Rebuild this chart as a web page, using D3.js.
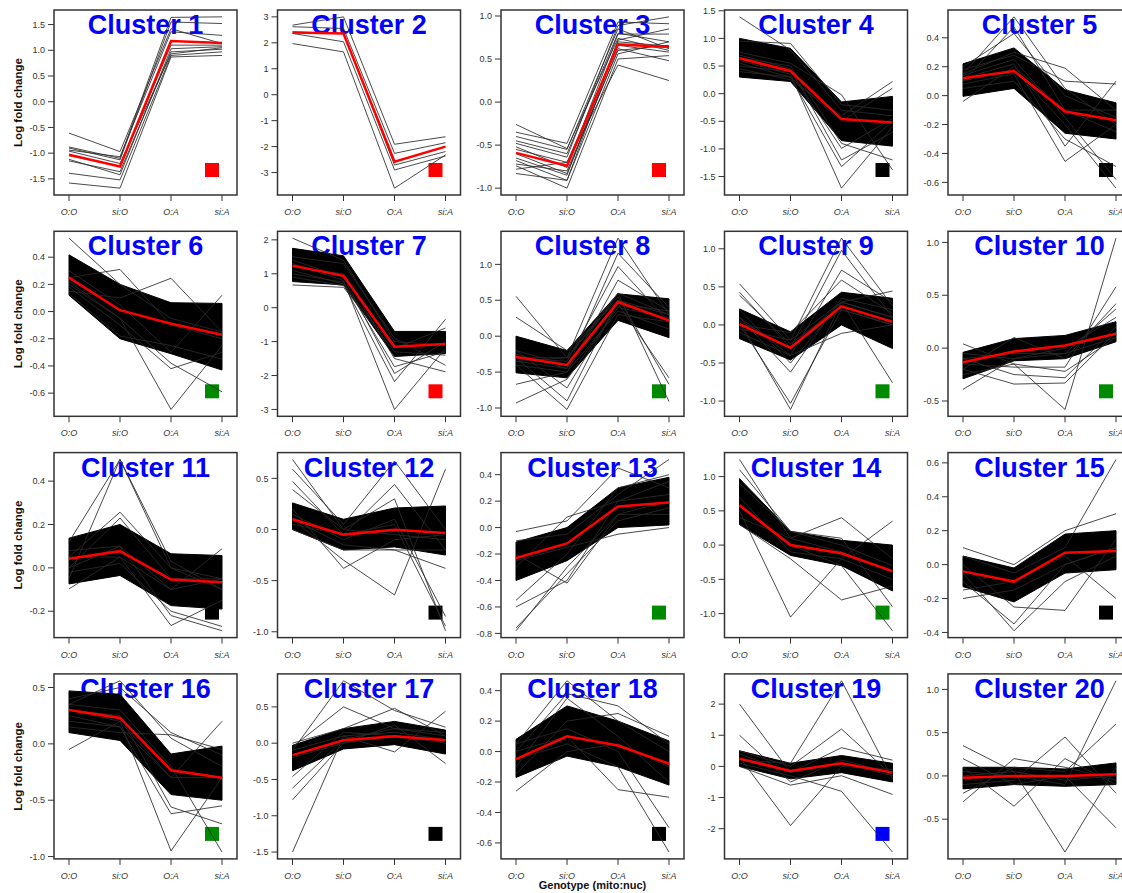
<!DOCTYPE html>
<html>
<head>
<meta charset="utf-8">
<script src="https://cdn.jsdelivr.net/npm/d3@7"></script>
<style>
  body { margin: 0; background: #fff; }
  svg { display: block; font-family: "Liberation Sans", Arial, Helvetica, sans-serif; }
</style>
</head>
<body>
<svg id="chart" width="1122" height="893"></svg>
<script>
/*************************
 *  data
*************************/

const genotypes = ["O:O", "si:O", "O:A", "si:A"]
const clusterNames = d3.range(1, 21).map(i => "Cluster " + i)

// red line (cluster mean)
const meanLines = [
  [-1.03, -1.26, 1.18, 1.14],
  [2.40, 2.36, -2.58, -2.00],
  [-0.59, -0.74, 0.67, 0.64],
  [0.64, 0.41, -0.46, -0.52],
  [0.12, 0.17, -0.11, -0.17],
  [0.25, 0.01, -0.09, -0.17],
  [1.24, 0.94, -1.15, -1.07],
  [-0.29, -0.40, 0.475, 0.22],
  [0.01, -0.30, 0.245, 0.04],
  [-0.134, -0.033, 0.025, 0.136],
  [0.042, 0.077, -0.054, -0.066],
  [0.10, -0.05, -0.003, -0.035],
  [-0.23, -0.12, 0.16, 0.19],
  [0.58, 0.00, -0.12, -0.38],
  [-0.04, -0.10, 0.07, 0.08],
  [0.30, 0.23, -0.234, -0.30],
  [-0.165, 0.04, 0.096, 0.04],
  [-0.05, 0.10, 0.04, -0.08],
  [0.25, -0.15, 0.10, -0.20],
  [-0.02, 0.00, 0.00, 0.02]
]

// dense black core of the gene profiles (upper / lower edge), null where the lines are few
const bandUpper = [
  null, null, null,
  [1.00, 0.82, -0.15, -0.05],
  [0.22, 0.33, 0.04, -0.05],
  [0.417, 0.20, 0.065, 0.06],
  [1.75, 1.53, -0.70, -0.70],
  [0.00, -0.20, 0.59, 0.52],
  [0.21, -0.09, 0.43, 0.35],
  [-0.04, 0.09, 0.12, 0.25],
  [0.137, 0.20, 0.065, 0.057],
  [0.26, 0.10, 0.21, 0.23],
  [-0.11, 0.00, 0.30, 0.38],
  [0.97, 0.20, 0.07, 0.00],
  [0.05, -0.02, 0.18, 0.20],
  [0.47, 0.44, -0.09, -0.02],
  [-0.03, 0.20, 0.30, 0.18],
  [0.08, 0.30, 0.20, 0.07],
  [0.50, 0.10, 0.35, 0.10],
  [0.10, 0.10, 0.08, 0.15]
]
const bandLower = [
  null, null, null,
  [0.30, 0.22, -0.85, -0.95],
  [-0.005, 0.05, -0.26, -0.30],
  [0.12, -0.20, -0.31, -0.43],
  [0.77, 0.67, -1.44, -1.35],
  [-0.51, -0.58, 0.22, -0.02],
  [-0.18, -0.46, 0.00, -0.31],
  [-0.29, -0.12, -0.10, 0.06],
  [-0.074, -0.035, -0.174, -0.19],
  [0.00, -0.20, -0.17, -0.25],
  [-0.40, -0.25, 0.00, 0.02],
  [0.30, -0.15, -0.30, -0.67],
  [-0.13, -0.22, -0.05, -0.03],
  [0.10, 0.03, -0.45, -0.50],
  [-0.38, -0.08, -0.02, -0.15],
  [-0.17, -0.03, -0.10, -0.22],
  [0.00, -0.40, -0.20, -0.50],
  [-0.15, -0.10, -0.12, -0.10]
]

// individual gene profiles that stand out of the core
const geneLines = [
  [[-0.61, -0.97, 1.42, 1.13], [-0.88, -1.10, 1.64, 1.65], [-0.90, -1.13, 1.55, 1.52], [-0.94, -1.07, 1.36, 1.29],
   [-1.12, -1.42, 1.03, 1.07], [-1.15, -1.36, 0.97, 1.02], [-1.39, -1.52, 0.90, 0.97], [-1.58, -1.68, 0.87, 0.90],
   [-0.96, -1.20, 0.93, 1.05], [-1.05, -1.25, 1.10, 1.10]],
  [[2.68, 3.00, -1.91, -1.62], [2.62, 2.55, -2.26, -1.85], [2.42, 2.36, -2.71, -2.19], [2.36, 2.04, -2.90, -2.36],
   [1.97, 1.65, -3.60, -2.32]],
  [[-0.26, -0.54, 0.74, 0.60], [-0.35, -0.48, 0.93, 0.91], [-0.48, -0.64, 0.89, 0.99], [-0.52, -0.76, 0.79, 0.79],
   [-0.60, -0.83, 0.62, 0.48], [-0.68, -0.91, 0.56, 0.70], [-0.74, -1.00, 0.50, 0.54], [-0.78, -0.70, 0.43, 0.25],
   [-0.83, -0.91, 0.70, 0.65], [-0.45, -0.60, 0.80, 0.70], [-0.55, -0.70, 0.66, 0.58], [-0.65, -0.85, 0.72, 0.85],
   [-0.72, -0.80, 0.60, 0.66], [-0.40, -0.55, 0.85, 0.62]],
  [[1.39, 0.79, -0.30, -0.40], [0.95, 0.91, -0.20, -0.30], [0.60, 0.35, -1.71, -0.60], [0.55, 0.30, -1.32, -0.50],
   [0.70, 0.45, -1.20, -0.70], [0.50, 0.40, -0.99, -0.45], [0.75, 0.55, -0.02, -1.38], [0.45, 0.25, -0.40, 0.22],
   [0.40, 0.30, -0.50, 0.10], [0.65, 0.50, -0.90, -1.20]],
  [[0.15, 0.545, 0.05, -0.20], [0.10, 0.475, -0.10, -0.25], [0.20, 0.43, 0.00, -0.15], [-0.04, 0.20, -0.10, -0.10],
   [0.15, 0.30, 0.19, -0.10], [0.12, 0.22, -0.35, 0.10], [0.08, 0.15, -0.455, -0.20], [0.10, 0.18, -0.20, -0.64],
   [0.14, 0.25, -0.15, -0.58], [0.05, 0.10, -0.30, -0.49], [0.18, 0.28, 0.10, 0.08]],
  [[0.54, 0.20, -0.05, -0.15], [0.25, 0.31, -0.10, -0.20], [0.15, 0.10, 0.245, -0.15], [0.20, -0.05, -0.72, -0.25],
   [0.18, -0.10, -0.42, -0.30], [0.22, -0.05, -0.38, -0.59], [0.30, 0.05, -0.30, 0.12], [0.13, -0.18, -0.25, -0.35]],
  [[2.05, 1.40, -1.00, -1.10], [0.67, 0.60, -1.30, -1.40], [1.30, 0.80, -3.00, -1.20], [1.10, 0.70, -2.18, -0.34],
   [1.40, 0.90, -1.94, -1.00], [1.00, 0.75, -1.74, -1.30], [1.20, 1.00, -1.50, -1.89], [1.50, 1.30, -0.90, -1.70],
   [0.90, 0.65, -1.20, -0.60]],
  [[0.555, -0.30, 0.60, 0.30], [0.265, -0.20, 0.50, 0.20], [-0.93, -0.60, 0.40, 0.25], [-0.67, -0.50, 0.35, 0.10],
   [-0.40, -1.02, 0.30, 0.20], [-0.30, -0.90, 0.50, 0.30], [-0.20, -0.72, 0.45, 0.35], [-0.35, -0.30, 1.365, 0.30],
   [-0.25, -0.45, 1.155, 0.40], [-0.30, -0.35, 0.97, 0.20], [-0.40, -0.50, 0.78, 0.35], [-0.20, -0.40, 0.60, -0.91],
   [-0.30, -0.30, 0.55, -0.67], [-0.35, -0.45, 0.45, -0.58]],
  [[0.54, -0.20, 0.30, 0.10], [0.43, -0.30, 0.20, 0.00], [0.39, -0.25, 0.25, 0.05], [0.05, -1.11, 0.30, 0.10],
   [0.00, -1.03, 0.20, 0.00], [0.10, -0.62, 0.35, 0.20], [-0.05, -0.20, 1.14, 0.25], [0.05, -0.30, 0.98, 0.10],
   [0.10, -0.40, 0.72, 0.30], [0.00, -0.10, 0.59, 0.15], [0.20, -0.50, 0.30, 0.445], [0.00, -0.30, 0.30, -0.76],
   [-0.10, -0.40, -0.11, 0.00]],
  [[0.04, -0.15, -0.58, 1.04], [-0.39, -0.10, -0.05, 0.10], [-0.20, -0.34, -0.33, 0.15], [-0.10, -0.25, -0.28, 0.20],
   [-0.15, -0.18, -0.18, 0.58], [-0.20, 0.10, -0.10, 0.42], [-0.10, -0.05, -0.05, 0.37], [-0.05, -0.10, 0.00, 0.29],
   [-0.25, -0.15, -0.22, 0.10]],
  [[0.12, 0.50, 0.03, -0.10], [-0.05, 0.50, 0.00, -0.05], [0.05, 0.257, 0.00, -0.10], [0.00, 0.23, -0.05, -0.05],
   [-0.097, 0.05, -0.10, -0.05], [0.05, 0.05, -0.266, -0.15], [0.00, 0.10, -0.22, -0.29], [0.08, 0.10, -0.10, 0.088],
   [-0.02, 0.02, -0.20, -0.27]],
  [[0.685, 0.00, -0.05, -0.10], [0.59, 0.05, 0.67, 0.00], [0.47, -0.05, 0.44, -0.20], [0.39, 0.00, 0.30, -0.99],
   [0.20, -0.38, -0.10, -0.05], [0.10, -0.30, -0.64, 0.59], [0.15, -0.10, 0.10, -0.85], [0.05, -0.05, 0.05, -0.945],
   [0.10, -0.15, -0.20, -0.38], [0.00, -0.20, -0.20, -0.20]],
  [[-0.78, -0.30, 0.10, 0.20], [-0.76, -0.35, 0.05, 0.15], [-0.60, -0.40, 0.20, 0.25], [-0.55, -0.20, 0.30, 0.40],
   [-0.03, 0.05, 0.45, 0.30], [-0.10, -0.05, 0.25, 0.515], [-0.20, -0.42, 0.10, 0.10], [-0.30, 0.08, 0.20, 0.35],
   [-0.25, -0.15, -0.05, 0.00]],
  [[1.25, 0.10, -0.10, -0.40], [1.10, 0.20, 0.00, -0.30], [0.50, -1.05, -0.20, -0.50], [0.40, 0.10, 0.40, -0.20],
   [0.30, -0.20, -0.80, -0.60], [0.60, 0.00, -0.30, -1.25], [0.70, -0.10, -0.20, 0.35], [0.90, 0.20, 0.10, -0.90]],
  [[-0.05, -0.39, -0.10, 0.05], [-0.10, -0.35, 0.00, 0.10], [0.00, -0.25, -0.27, 0.15], [0.05, -0.05, 0.10, 0.62],
   [-0.15, -0.10, 0.05, -0.20], [0.10, 0.00, 0.20, 0.30], [-0.20, -0.15, 0.00, 0.10]],
  [[-0.05, 0.20, -0.30, -0.30], [0.35, 0.56, 0.05, -0.20], [0.40, 0.50, 0.10, -0.10], [0.30, 0.20, -0.95, -0.30],
   [0.25, 0.15, -0.62, -0.55], [0.30, 0.25, -0.56, -0.71], [0.20, 0.15, -0.30, 0.20], [0.35, 0.30, -0.20, -0.96],
   [0.15, 0.10, 0.08, -0.05]],
  [[-1.50, 0.10, 0.15, 0.05], [-0.78, 0.00, 0.10, 0.00], [-0.62, 0.05, 0.20, 0.10], [-0.46, 0.15, 0.10, 0.05],
   [-0.10, 0.86, 0.45, 0.22], [-0.05, 0.50, 0.20, 0.15], [0.00, 0.20, 0.48, 0.10], [-0.10, 0.10, -0.12, 0.44],
   [-0.20, 0.00, 0.25, -0.28]],
  [[-0.26, 0.00, 0.05, -0.10], [0.05, 0.465, 0.20, 0.00], [0.00, 0.38, 0.30, 0.05], [-0.10, 0.35, 0.10, -0.20],
   [0.00, 0.10, -0.25, -0.30], [-0.05, 0.05, -0.10, -0.66], [0.05, 0.15, 0.00, -0.50], [-0.15, 0.20, 0.25, 0.10]],
  [[2.00, -0.20, 0.10, -0.30], [1.00, -0.50, 0.20, -0.20], [0.30, -1.90, 0.00, -0.10], [0.20, 0.10, 2.75, -0.40],
   [0.50, 0.00, 1.20, -0.30], [0.10, -0.30, -0.80, -2.75], [0.00, -0.60, -0.30, -0.90], [0.40, -0.20, 0.60, 0.20]],
  [[0.35, 0.05, -0.05, 0.00], [-0.30, 0.20, 0.10, -0.05], [0.10, -0.35, 0.20, -0.10], [0.00, 0.05, -0.88, 0.10],
   [0.05, 0.00, -0.10, 1.10], [-0.10, -0.05, 0.45, -0.20], [0.20, -0.10, 0.00, -0.60], [-0.20, 0.10, 0.05, 0.60]]
]

// y tick spacing as printed on each panel
const tickSteps = [0.5, 1, 0.5, 0.5, 0.2, 0.2, 1, 0.5, 0.5, 0.5, 0.2, 0.5, 0.2, 0.5, 0.2, 0.5, 0.5, 0.2, 1, 0.5]

// colour of the small square in the lower right corner
const legendColors = ["red", "red", "red", "black", "black", "green", "red", "green", "green", "green",
                      "black", "black", "green", "green", "black", "green", "black", "black", "blue", null]

/*************************
 *  layout
*************************/

const pw = 183, ph = 185
const colX = c => 54 + c * 223.5
const rowY = r => 10 + r * 221.3
const squareColor = { red: "#ff0000", black: "#000000", green: "#008a00", blue: "#0000ff" }

const svg = d3.select("#chart")

svg.append("rect").attr("width", 1122).attr("height", 893).attr("fill", "#fff")

const x = d3.scalePoint()
    .domain(genotypes)
    .range([15, pw - 15])

const fmtMinus = s => s.replace("\u2212", "-")

clusterNames.forEach((name, i) => {
    let col = i % 5, row = Math.floor(i / 5)

    // R style ylim: range of everything drawn, stretched 4 %
    let all = [].concat(meanLines[i], ...geneLines[i], bandUpper[i] || [], bandLower[i] || [])
    let [lo, hi] = d3.extent(all)
    let pad = (hi - lo) * 0.04
    let y = d3.scaleLinear().domain([lo - pad, hi + pad]).range([ph, 0])

    let step = tickSteps[i]
    let ticks = d3.range(Math.ceil((lo - pad) / step), Math.floor((hi + pad) / step) + 1)
        .map(k => +(k * step).toFixed(2))
    let fmt = step >= 1 ? d3.format("d") : d3.format(".1f")

    let g = svg.append("g")
        .attr("class", "panel")
        .attr("transform", `translate(${colX(col)}, ${rowY(row)})`)

    // title first, gene lines run over it
    g.append("text")
        .attr("x", pw / 2)
        .attr("y", 24)
        .attr("text-anchor", "middle")
        .attr("font-size", 27)
        .attr("font-weight", "bold")
        .attr("fill", "#0000ff")
        .text(name)

    if (legendColors[i]) {
        g.append("rect")
            .attr("x", 151)
            .attr("y", 153)
            .attr("width", 14)
            .attr("height", 14)
            .attr("fill", squareColor[legendColors[i]])
    }

    if (bandUpper[i]) {
        let band = genotypes.map((gt, j) => ({ gt: gt, hi: bandUpper[i][j], lo: bandLower[i][j] }))
        g.append("path")
            .datum(band)
            .attr("d", d3.area().x(d => x(d.gt)).y0(d => y(d.lo)).y1(d => y(d.hi)))
            .attr("fill", "#000")
            .attr("stroke", "#000")
            .attr("stroke-width", 1)
    }

    let line = d3.line().x((d, j) => x(genotypes[j])).y(d => y(d))

    g.selectAll(".gene")
        .data(geneLines[i])
        .join("path")
        .attr("class", "gene")
        .attr("d", line)
        .attr("fill", "none")
        .attr("stroke", "#2a2a2a")
        .attr("stroke-opacity", 0.85)
        .attr("stroke-width", 1)

    g.append("path")
        .datum(meanLines[i])
        .attr("d", line)
        .attr("fill", "none")
        .attr("stroke", "#ff0000")
        .attr("stroke-width", 2.5)

    // frame
    g.append("rect")
        .attr("width", pw)
        .attr("height", ph)
        .attr("fill", "none")
        .attr("stroke", "#333")
        .attr("stroke-width", 1.5)

    // y axis
    let ya = g.append("g").attr("class", "yaxis")
    ya.selectAll("line")
        .data(ticks)
        .join("line")
        .attr("x1", -6).attr("x2", 0)
        .attr("y1", d => y(d)).attr("y2", d => y(d))
        .attr("stroke", "#333")
    ya.selectAll("text")
        .data(ticks)
        .join("text")
        .attr("x", -9)
        .attr("y", d => y(d))
        .attr("dy", "0.35em")
        .attr("text-anchor", "end")
        .attr("font-size", 9)
        .attr("fill", "#333")
        .text(d => fmtMinus(fmt(d)))

    // x axis
    let xa = g.append("g").attr("class", "xaxis")
    xa.selectAll("line")
        .data(genotypes)
        .join("line")
        .attr("x1", d => x(d)).attr("x2", d => x(d))
        .attr("y1", ph).attr("y2", ph + 6)
        .attr("stroke", "#333")
    xa.selectAll("text")
        .data(genotypes)
        .join("text")
        .attr("x", d => x(d))
        .attr("y", ph + 20)
        .attr("text-anchor", "middle")
        .attr("font-size", 9)
        .attr("font-style", "italic")
        .attr("fill", "#333")
        .text(d => d)

    if (col == 0) {
        g.append("text")
            .attr("transform", `translate(-32, ${ph / 2}) rotate(-90)`)
            .attr("text-anchor", "middle")
            .attr("font-size", 11.5)
            .attr("font-weight", "bold")
            .attr("fill", "#111")
            .text("Log fold change")
    }
})

svg.append("text")
    .attr("x", colX(2) + pw / 2)
    .attr("y", 889)
    .attr("text-anchor", "middle")
    .attr("font-size", 11)
    .attr("font-weight", "bold")
    .attr("fill", "#111")
    .text("Genotype (mito:nuc)")
</script>
</body>
</html>
